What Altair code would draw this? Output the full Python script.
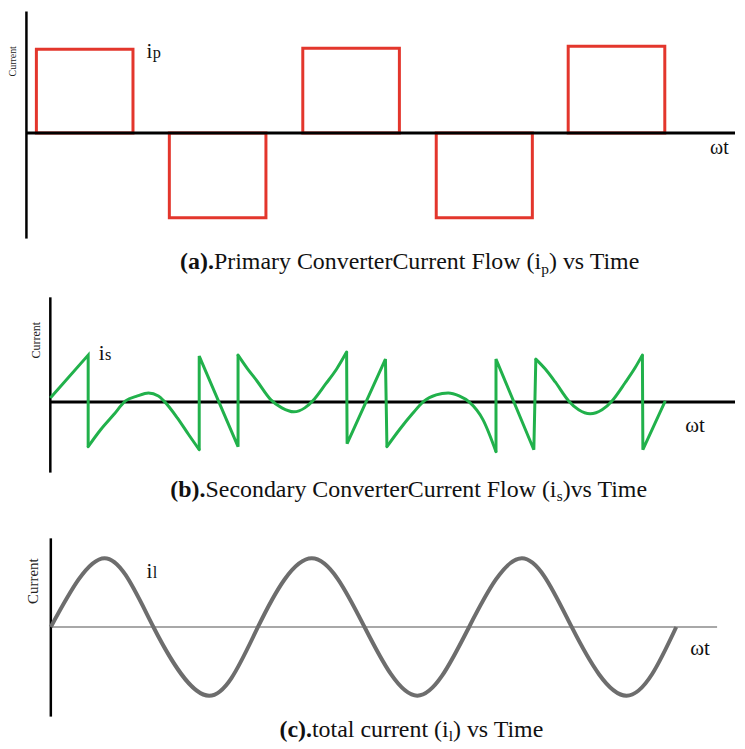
import altair as alt
import pandas as pd

FONT = "Liberation Serif, Times New Roman, DejaVu Serif, serif"
RED = "#e3362c"
GREEN = "#21b14b"
GREY = "#6d6d6d"
ZGREY = "#a8a8a8"

# ---------------- data ----------------
# (a) primary converter current: quasi-square pulses
a_start = [10, 143.5, 277.5, 411.5, 544]
a_end = [107, 240.5, 374.5, 508, 641]
a_level = [84, -85, 85, -85, 87]

# (b) secondary converter current (omega*t, current)
b_t = [0, 38, 38, 50.5, 63.5, 75.5, 87.5, 98.5, 108.5, 114, 127.5, 139, 149.5,
       149.5, 188.5, 188.5, 197.5, 207.5, 221.5, 232.5, 244.5, 255.5, 263.5, 276.5, 287.5, 297.5,
       298, 336.5, 338, 350.5, 363.5, 375.5, 387.5, 399.5, 410.5, 420.5, 434.5, 447.5,
       447.5, 485.5, 487.5, 497, 507, 520.5, 530.5, 542, 554, 564, 577, 587, 594.5,
       595, 617.5]
b_i = [4, 47, -45, -28, -13, 1, 6, 9, 6, 1, -16, -33, -48,
       46, -45, 47, 34, 21, 2, -6, -10, -6, 1, 18, 33, 50,
       -42, 43, -45, -28, -12, 1, 7, 9, 6, 0, -18, -50,
       43, -48, 43, 33, 20, 1, -8, -12, -8, 1, 19, 34, 47,
       -48, 1]
b_curved = [(2, 12), (15, 25), (28, 37), (40, 50)]

# (c) total current: zero crossings and extremes
c_t = [0, 54, 103, 159, 208, 262, 315, 368, 420, 473, 523, 578, 628]
c_i = [0, 69, 0, -69, 0, 69, 0, -69, 0, 69, 0, -69, 0]

# ---------------- text metrics (Times / Liberation Serif, per 1000 em) ----------------
REG = {' ': 250, '(': 333, ')': 333, '.': 250, 'a': 444, 'b': 500, 'c': 444, 'd': 500,
       'e': 444, 'i': 278, 'l': 278, 'm': 778, 'n': 500, 'o': 500, 'p': 500, 'r': 333,
       's': 389, 't': 278, 'u': 500, 'v': 500, 'w': 722, 'y': 500, 'C': 667, 'F': 556,
       'P': 556, 'S': 556, 'T': 611}
BOLD = {'(': 333, ')': 333, '.': 250, 'a': 500, 'b': 556, 'c': 444}


def tw(s, fs, bold=False):
    d = BOLD if bold else REG
    return sum(d.get(ch, 500) for ch in s) * fs / 1000.0


W = 729
TFS = 24
SUBFS = 15.5


def panel(H, xdom, ydom, marks, title_pieces, title_center, title_y,
          lab_main, lab_sub, lab_pos, lab_fs, wt_pos, wt_fs, cur_pos, cur_fs):
    xs = alt.Scale(domain=xdom, nice=False, zero=False)
    ys = alt.Scale(domain=ydom, nice=False, zero=False)

    def X(f):
        return alt.X(f, type="quantitative", scale=xs, axis=None)

    def Y(f):
        return alt.Y(f, type="quantitative", scale=ys, axis=None)

    layers = [m(X, Y) for m in marks]

    # title pieces
    total = sum(tw(s, SUBFS if kind == "sub" else TFS, kind == "bold") for s, kind in title_pieces)
    x0 = title_center - total / 2.0
    rows = {"bold": [], "reg": [], "sub": []}
    for s, kind in title_pieces:
        fs = SUBFS if kind == "sub" else TFS
        yy = title_y - 4.5 if kind == "sub" else title_y
        rows[kind].append({"t": x0, "y": yy, "txt": s})
        x0 += tw(s, fs, kind == "bold")
    for kind, fs, wgt in [("bold", TFS, "bold"), ("reg", TFS, "normal"), ("sub", SUBFS, "normal")]:
        layers.append(alt.Chart(pd.DataFrame(rows[kind])).mark_text(
            font=FONT, fontSize=fs, fontWeight=wgt, align="left", baseline="alphabetic",
            color="#111111").encode(x=X("t"), y=Y("y"), text="txt:N"))

    # curve label (i with subscript letter)
    lx, ly = lab_pos
    lab = pd.DataFrame({"t": [lx], "y": [ly], "txt": [lab_main]})
    sub = pd.DataFrame({"t": [lx + tw(lab_main, lab_fs) + 0.5], "y": [ly], "txt": [lab_sub]})
    layers.append(alt.Chart(lab).mark_text(font=FONT, fontSize=lab_fs, align="left",
                  baseline="alphabetic", color="#111111").encode(x=X("t"), y=Y("y"), text="txt:N"))
    layers.append(alt.Chart(sub).mark_text(font=FONT, fontSize=lab_fs * 0.78, align="left",
                  baseline="alphabetic", color="#111111").encode(x=X("t"), y=Y("y"), text="txt:N"))

    # omega t
    wt = pd.DataFrame({"t": [wt_pos[0]], "y": [wt_pos[1]], "txt": ["ωt"]})
    layers.append(alt.Chart(wt).mark_text(font=FONT, fontSize=wt_fs, align="left",
                  baseline="alphabetic", color="#111111").encode(x=X("t"), y=Y("y"), text="txt:N"))

    # rotated axis title
    cur = pd.DataFrame({"t": [cur_pos[0]], "y": [cur_pos[1]], "txt": ["Current"]})
    layers.append(alt.Chart(cur).mark_text(font=FONT, fontSize=cur_fs, angle=270, align="center",
                  baseline="middle", color="#222222").encode(x=X("t"), y=Y("y"), text="txt:N"))

    return alt.layer(*layers).properties(width=W, height=H)


def hrule(xmax, color, width):
    def f(X, Y):
        df = pd.DataFrame({"t": [0], "t2": [xmax], "y": [0]})
        return alt.Chart(df).mark_rule(color=color, strokeWidth=width).encode(
            x=X("t"), x2="t2", y=Y("y"))
    return f


def vrule(ytop, ybot, width):
    def f(X, Y):
        df = pd.DataFrame({"t": [0], "y": [ytop], "y2": [ybot]})
        return alt.Chart(df).mark_rule(color="black", strokeWidth=width).encode(
            x=X("t"), y=Y("y"), y2="y2")
    return f


# ---- panel a marks ----
def a_rects(X, Y):
    df = pd.DataFrame({"t": a_start, "t2": a_end, "y": a_level, "y2": [0] * len(a_level)})
    return alt.Chart(df).mark_rect(filled=False, stroke=RED, strokeWidth=3).encode(
        x=X("t"), x2="t2", y=Y("y"), y2="y2")


# ---- panel b marks ----
curved_edges = set()
for s, e in b_curved:
    curved_edges.update(range(s, e))
straight_rows, curved_rows = [], []
seg = 0
chain = []
for k in range(len(b_t) - 1):
    if k in curved_edges:
        if chain:
            for o, idx in enumerate(chain):
                straight_rows.append({"t": b_t[idx], "y": b_i[idx], "seg": seg, "o": o})
            seg += 1
            chain = []
        continue
    if not chain:
        chain = [k]
    chain.append(k + 1)
if chain:
    for o, idx in enumerate(chain):
        straight_rows.append({"t": b_t[idx], "y": b_i[idx], "seg": seg, "o": o})
    seg += 1
for s, e in b_curved:
    for o, idx in enumerate(range(s, e + 1)):
        curved_rows.append({"t": b_t[idx], "y": b_i[idx], "seg": seg, "o": o})
    seg += 1


def b_straight(X, Y):
    return alt.Chart(pd.DataFrame(straight_rows)).mark_line(
        color=GREEN, strokeWidth=3, strokeJoin="miter").encode(
        x=X("t"), y=Y("y"), detail="seg:N", order="o:Q")


def b_curve(X, Y):
    return alt.Chart(pd.DataFrame(curved_rows)).mark_line(
        color=GREEN, strokeWidth=3, interpolate="monotone", strokeCap="round").encode(
        x=X("t"), y=Y("y"), detail="seg:N", order="o:Q")


# ---- panel c marks ----
def c_line(X, Y):
    df = pd.DataFrame({"t": c_t, "y": c_i})
    return alt.Chart(df).mark_line(color=GREY, strokeWidth=4, interpolate="natural").encode(
        x=X("t"), y=Y("y"), order="t:Q")


pa = panel(270, [-17.5, 711.5], [-148, 122],
           [a_rects, hrule(711.5, "black", 3), vrule(122, -106, 2.5)],
           [("(a).", "bold"), ("Primary ConverterCurrent Flow (i", "reg"), ("p", "sub"), (") vs Time", "reg")],
           385.5, -136.7,
           "i", "p", (120.5, 75), 21, (686.5, -21), 20, (-13, 72), 10)

pb = panel(232, [-41.5, 687.5], [-110, 122],
           [hrule(687.5, "black", 3), vrule(105, -71, 2.5), b_straight, b_curve],
           [("(b).", "bold"), ("Secondary ConverterCurrent Flow (i", "reg"), ("s", "sub"), (")vs Time", "reg")],
           360.5, -95,
           "i", "s", (48.5, 42), 21, (637.5, -30), 21, (-14.5, 62), 12)

pc = panel(231, [-42, 687], [-115, 116],
           [hrule(669, ZGREY, 2), vrule(89, -90, 2.5), c_line],
           [("(c).", "bold"), ("total current (i", "reg"), ("l", "sub"), (") vs Time", "reg")],
           362.7, -110,
           "i", "l", (96, 49), 21, (642, -28), 21, (-18, 46), 15)

chart = alt.vconcat(pa, pb, pc, spacing=0, padding=0, bounds="flush").configure_view(stroke=None)

chart.save("out.html", embed_options={"renderer": "svg", "actions": False})
